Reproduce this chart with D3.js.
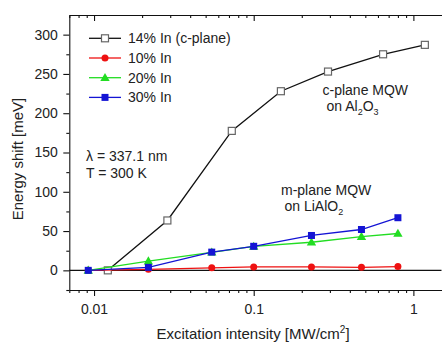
<!DOCTYPE html>
<html>
<head>
<meta charset="utf-8">
<script src="https://cdn.jsdelivr.net/npm/d3@7"></script>
<style>
  html, body { margin: 0; padding: 0; background: #fff; }
  svg { display: block; font-family: "Liberation Sans", Arial, sans-serif; }
</style>
</head>
<body>
<svg id="chart" width="442" height="343"></svg>
<script>
// Excitation intensity (MW/cm^2) for each sample series
const cPlaneX = [0.0122, 0.0288, 0.0729, 0.148, 0.292, 0.646, 1.18];
const cPlane14 = [0, 63.5, 177.5, 228, 253, 275, 287];

const mPlaneX = [0.0092, 0.0219, 0.0546, 0.1, 0.23, 0.473, 0.80];
const mPlane10 = [0, 1.3, 3.2, 4.4, 4.4, 3.8, 4.8];
const mPlane20 = [0, 11.8, 23.0, 30.4, 35.8, 43.0, 46.9];
const mPlane30 = [0, 3.8, 23.2, 30.6, 44.4, 52.0, 67.0];

const seriesNames = ["14% In (c-plane)", "10% In", "20% In", "30% In"];
const seriesColors = ["#111111", "#ee1111", "#22dd22", "#1414d4"];
const seriesSymbols = ["openSquare", "circle", "triangle", "square"];

const xMajorTicks = [0.01, 0.1, 1];
const xTickLabels = ["0.01", "0.1", "1"];
const yMajorTicks = [0, 50, 100, 150, 200, 250, 300];
const yMinorTicks = [-25, 25, 75, 125, 175, 225, 275];

const svg = d3.select("#chart");
const margin = { left: 69.3, right: 441.5, top: 15, bottom: 290 };

const x = d3.scaleLog().domain([0.007, 1.5]).range([margin.left, margin.right]);
const y = d3.scaleLinear().domain([-25, 325]).range([margin.bottom, margin.top]);

const xMinor = [];
[0.001, 0.01, 0.1].forEach(d => { for (let k = 2; k <= 9; k++) { const v = d * k; if (v >= 0.007 && v <= 1.5) xMinor.push(v); } });

const fontSize = 14;

// bottom axis
svg.append("g").attr("transform", `translate(0,${margin.bottom})`)
  .call(d3.axisBottom(x).tickValues(xMajorTicks).tickFormat((d, i) => xTickLabels[i]).tickSize(6).tickPadding(8).tickSizeOuter(0));
svg.append("g").attr("transform", `translate(0,${margin.bottom})`)
  .call(d3.axisBottom(x).tickValues(xMinor).tickFormat("").tickSize(3).tickSizeOuter(0))
  .call(g => g.select(".domain").remove());

// top axis, ticks inward
svg.append("g").attr("transform", `translate(0,${margin.top})`)
  .call(d3.axisBottom(x).tickValues(xMajorTicks).tickFormat("").tickSize(6).tickSizeOuter(0));
svg.append("g").attr("transform", `translate(0,${margin.top})`)
  .call(d3.axisBottom(x).tickValues(xMinor).tickFormat("").tickSize(3).tickSizeOuter(0))
  .call(g => g.select(".domain").remove());

// left axis
svg.append("g").attr("transform", `translate(${margin.left},0)`)
  .call(d3.axisLeft(y).tickValues(yMajorTicks).tickSize(6).tickPadding(5.5).tickSizeOuter(0));
svg.append("g").attr("transform", `translate(${margin.left},0)`)
  .call(d3.axisLeft(y).tickValues(yMinorTicks).tickFormat("").tickSize(3).tickSizeOuter(0))
  .call(g => g.select(".domain").remove());

// right axis: inward ticks only, its frame line sits at the page edge
svg.append("g").attr("transform", `translate(${margin.right + 0.8},0)`)
  .call(d3.axisLeft(y).tickValues(yMajorTicks).tickFormat("").tickSize(-5).tickSizeOuter(0))
  .call(g => g.select(".domain").remove());
svg.append("g").attr("transform", `translate(${margin.right + 0.8},0)`)
  .call(d3.axisLeft(y).tickValues(yMinorTicks).tickFormat("").tickSize(-3).tickSizeOuter(0))
  .call(g => g.select(".domain").remove());

svg.selectAll(".tick text").attr("font-size", fontSize).attr("font-family", "Liberation Sans, Arial, sans-serif").attr("fill", "#222");
svg.selectAll(".domain, .tick line").attr("stroke", "#111").attr("stroke-width", 1.1);

// zero line
svg.append("line")
  .attr("x1", margin.left).attr("x2", margin.right)
  .attr("y1", y(0)).attr("y2", y(0))
  .attr("stroke", "#111").attr("stroke-width", 1.1);

// axis titles
svg.append("text")
  .attr("transform", `translate(23,159) rotate(-90)`)
  .attr("text-anchor", "middle").attr("font-size", 15).attr("fill", "#222")
  .text("Energy shift [meV]");

const xt = svg.append("text")
  .attr("x", 253).attr("y", 339).attr("text-anchor", "middle").attr("font-size", 15).attr("fill", "#222");
xt.append("tspan").text("Excitation intensity [MW/cm");
xt.append("tspan").attr("dy", -6).attr("font-size", 10).text("2");
xt.append("tspan").attr("dy", 6).text("]");

// symbol drawing
function drawSymbol(g, type, color, cx, cy) {
  if (type === "openSquare") {
    g.append("rect").attr("x", cx - 3.5).attr("y", cy - 3.5).attr("width", 7).attr("height", 7)
      .attr("fill", "#fff").attr("stroke", "#666").attr("stroke-width", 1.2);
  } else if (type === "square") {
    g.append("rect").attr("x", cx - 3.5).attr("y", cy - 3.5).attr("width", 7).attr("height", 7)
      .attr("fill", color);
  } else if (type === "circle") {
    g.append("circle").attr("cx", cx).attr("cy", cy).attr("r", 3.5).attr("fill", color);
  } else if (type === "triangle") {
    g.append("path").attr("d", d3.symbol().type(d3.symbolTriangle).size(38)())
      .attr("transform", `translate(${cx},${cy + 0.6})`).attr("fill", color);
  }
}

const series = [
  { xs: cPlaneX, ys: cPlane14 },
  { xs: mPlaneX, ys: mPlane10 },
  { xs: mPlaneX, ys: mPlane20 },
  { xs: mPlaneX, ys: mPlane30 }
];

const line = d3.line().x(d => x(d[0])).y(d => y(d[1]));

series.forEach((s, i) => {
  const pts = s.xs.map((v, j) => [v, s.ys[j]]);
  const g = svg.append("g");
  g.append("path").attr("d", line(pts)).attr("fill", "none")
    .attr("stroke", seriesColors[i]).attr("stroke-width", 1.3);
  pts.forEach(p => drawSymbol(g, seriesSymbols[i], seriesColors[i], x(p[0]), y(p[1])));
});

// legend
const legY0 = 38.3, legStep = 19.7;
seriesNames.forEach((name, i) => {
  const g = svg.append("g");
  const ly = legY0 + i * legStep;
  g.append("line").attr("x1", 89).attr("x2", 121).attr("y1", ly).attr("y2", ly)
    .attr("stroke", seriesColors[i]).attr("stroke-width", 1.3);
  drawSymbol(g, seriesSymbols[i], seriesColors[i], 105, ly);
  g.append("text").attr("x", 128).attr("y", ly + 5).attr("font-size", fontSize).attr("fill", "#222").text(name);
});

// annotations
svg.append("text").attr("x", 86).attr("y", 161).attr("font-size", fontSize).attr("fill", "#222").text("λ = 337.1 nm");
svg.append("text").attr("x", 86).attr("y", 178).attr("font-size", fontSize).attr("fill", "#222").text("T = 300 K");

svg.append("text").attr("x", 322.5).attr("y", 94.5).attr("font-size", fontSize).attr("fill", "#222").text("c-plane MQW");
const al = svg.append("text").attr("x", 326.5).attr("y", 110.5).attr("font-size", fontSize).attr("fill", "#222");
al.append("tspan").text("on Al");
al.append("tspan").attr("dy", 4).attr("font-size", 9).text("2");
al.append("tspan").attr("dy", -4).text("O");
al.append("tspan").attr("dy", 4).attr("font-size", 9).text("3");

svg.append("text").attr("x", 281).attr("y", 194.5).attr("font-size", fontSize).attr("fill", "#222").text("m-plane MQW");
const li = svg.append("text").attr("x", 284.5).attr("y", 211).attr("font-size", fontSize).attr("fill", "#222");
li.append("tspan").text("on LiAlO");
li.append("tspan").attr("dy", 4).attr("font-size", 9).text("2");
</script>
</body>
</html>
